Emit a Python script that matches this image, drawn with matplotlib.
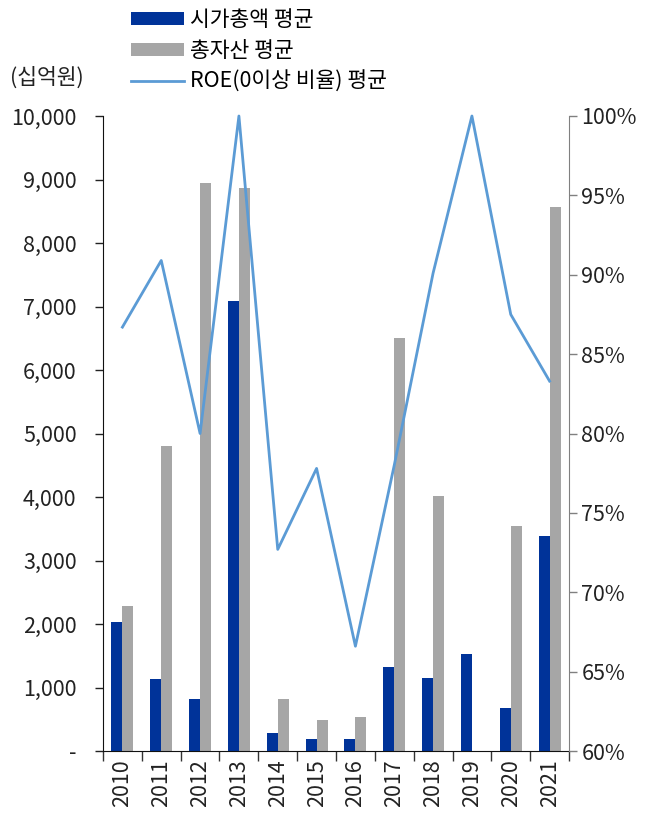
import matplotlib
matplotlib.use("Agg")
import matplotlib.pyplot as plt
from matplotlib.patches import Patch
from matplotlib.lines import Line2D
from matplotlib.ticker import FuncFormatter, FixedLocator
import numpy as np

plt.rcParams['font.family'] = ['Noto Sans CJK KR', 'DejaVu Sans']

years = ['2010', '2011', '2012', '2013', '2014', '2015', '2016', '2017', '2018', '2019', '2020', '2021']
market_cap = [2030, 1140, 820, 7080, 290, 195, 190, 1320, 1155, 1520, 680, 3385]
total_assets = [2285, 4800, 8950, 8870, 825, 495, 540, 6500, 4020, 0, 3540, 8570]
roe_ratio = [86.7, 90.9, 80.0, 100.0, 72.7, 77.8, 66.6, 78.0, 90.1, 100.0, 87.5, 83.3]

legend_labels = ['시가총액 평균', '총자산 평균', 'ROE(0이상 비율) 평균']
unit_label = '(십억원)'

c_blue = '#003399'
c_gray = '#a6a6a6'
c_line = '#5b9bd5'
fs = 15.5

fig = plt.figure(figsize=(6.49, 8.19), dpi=100)
ax = fig.add_axes([103/649, 1-751/819, (569-103)/649, (751-116)/819])
x = np.arange(len(years))
w = 0.285
ax.bar(x - w/2, market_cap, width=w, color=c_blue, zorder=2)
ax.bar(x + w/2, total_assets, width=w, color=c_gray, zorder=2)
ax.set_xlim(-0.5, len(years) - 0.5)
ax.set_ylim(0, 10000)
ax.set_yticks(np.arange(0, 10001, 1000))
ax.yaxis.set_major_formatter(FuncFormatter(lambda v, p: '-' if v == 0 else f'{int(v):,}'))
ax.set_xticks(x)
ax.set_xticklabels(years, rotation=90)
ax.xaxis.set_minor_locator(FixedLocator(np.arange(-0.5, len(years), 1.0)))
ax.tick_params(axis='x', which='major', length=0, pad=6, labelsize=fs, colors='#222222')
ax.tick_params(axis='x', which='minor', length=7, width=1, color='#333333')
ax.tick_params(axis='y', length=6, width=1, labelsize=fs, colors='#222222', pad=13)
ax.spines['top'].set_visible(False)
ax.spines['right'].set_visible(False)
ax.spines['left'].set_color('#111111')
ax.spines['bottom'].set_color('#111111')

ax2 = ax.twinx()
ax2.plot(x, roe_ratio, color=c_line, linewidth=2.0, clip_on=False, zorder=3)
ax2.set_ylim(60, 100)
ax2.set_yticks(np.arange(60, 101, 5))
ax2.yaxis.set_major_formatter(FuncFormatter(lambda v, p: f'{int(v)}%'))
ax2.tick_params(axis='y', length=6, width=1, labelsize=fs, colors='#222222', color='#808080', pad=3)
ax2.spines['top'].set_visible(False)
ax2.spines['left'].set_visible(False)
ax2.spines['bottom'].set_visible(False)
ax2.spines['right'].set_color('#808080')

handles = [Patch(facecolor=c_blue, edgecolor='none'),
           Patch(facecolor=c_gray, edgecolor='none'),
           Line2D([0], [0], color=c_line, linewidth=2.0)]
fig.legend(handles, legend_labels, loc='upper left', bbox_to_anchor=(116/649, 1 + 6/819),
           frameon=False, fontsize=fs, handlelength=2.45, handleheight=0.5,
           labelspacing=0.42, handletextpad=0.3, borderpad=0.2)

fig.text(10/649, 1 - 78/819, unit_label, fontsize=fs, va='center', ha='left', color='#222222')

fig.savefig('out.png', dpi=100)
